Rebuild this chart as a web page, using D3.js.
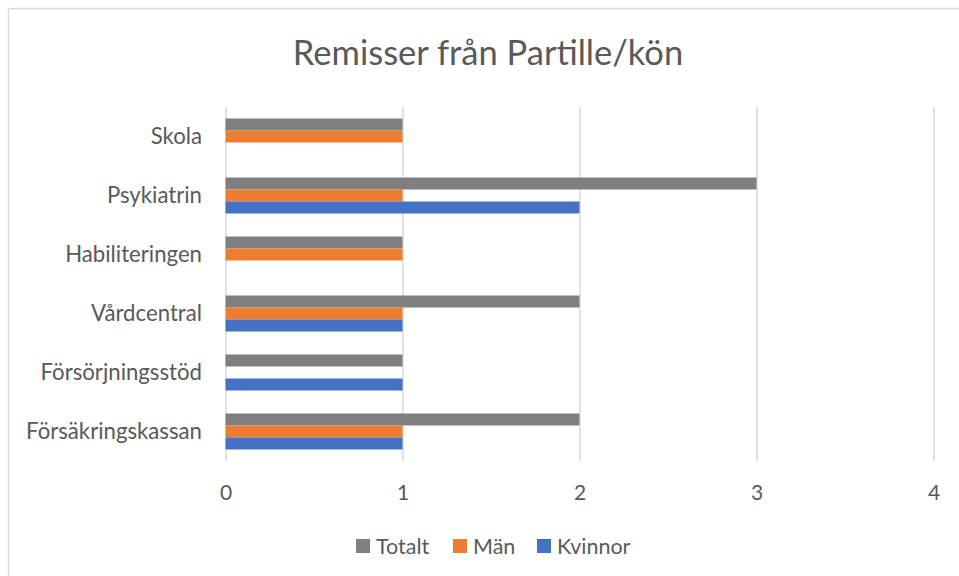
<!DOCTYPE html>
<html><head><meta charset="utf-8">
<script src="https://cdn.jsdelivr.net/npm/d3@7"></script>
<style>body{margin:0;background:#fff;} text{font-family:Lato,"Open Sans",sans-serif;}</style>
</head><body>
<svg id="c" width="959" height="576"></svg>
<script>
const categories = ["Skola","Psykiatrin","Habiliteringen","Vårdcentral","Försörjningsstöd","Försäkringskassan"];
const seriesNames = ["Totalt","Män","Kvinnor"];
const totalt = [1,3,1,2,1,2];
const man = [1,1,1,1,0,1];
const kvinnor = [0,2,0,1,1,1];
const xTicks = [0,1,2,3,4];
const colors = ["#7f7f7f","#ed7d31","#4472c4"];

const svg = d3.select("#c");
const W=959,H=576;
svg.append("rect").attr("x",0).attr("y",0).attr("width",W).attr("height",H).attr("fill","#fff");
svg.append("line").attr("x1",8.5).attr("x2",W).attr("y1",8.5).attr("y2",8.5).attr("stroke","#d9d9d9").attr("stroke-width",1.5);
svg.append("line").attr("x1",8.5).attr("x2",8.5).attr("y1",8.5).attr("y2",H).attr("stroke","#d9d9d9").attr("stroke-width",1.5);

const pL=225.5,pR=933.5,pT=107,pB=461;
const x=d3.scaleLinear().domain([0,4]).range([pL,pR]);
const y=d3.scaleBand().domain(categories).range([pT,pB]);
const groupH=36;
const off=(y.bandwidth()-groupH)/2;
const inner=d3.scaleBand().domain(seriesNames).range([off,off+groupH]);

svg.append("text").attr("x",488).attr("y",65).attr("text-anchor","middle").attr("font-size",34.5).attr("fill","#595959").text("Remisser från Partille/kön");

const xAxis=d3.axisBottom(x).tickValues(xTicks).tickSize(-(pB-pT)).tickFormat(d3.format("d"));
const gx=svg.append("g").attr("transform",`translate(0,${pB})`).call(xAxis);
gx.select(".domain").remove();
gx.selectAll(".tick line").attr("stroke","#d9d9d9").attr("stroke-width",1.5);
gx.selectAll(".tick text").attr("font-size",21).attr("fill","#595959").attr("dy",0).attr("y",39).style("font-family","Lato, 'Open Sans', sans-serif");

const data=[totalt,man,kvinnor];
seriesNames.forEach((s,si)=>{
  svg.append("g").selectAll("rect").data(categories.map((c,i)=>({c,v:data[si][i]}))).join("rect")
    .attr("x",x(0)).attr("y",d=>y(d.c)+inner(s)).attr("height",inner.bandwidth())
    .attr("width",d=>x(d.v)-x(0)).attr("fill",colors[si]);
});

const yAxis=d3.axisLeft(y).tickSize(0).tickPadding(0);
const gy=svg.append("g").attr("transform",`translate(202,0)`).call(yAxis);
gy.select(".domain").remove();
gy.selectAll(".tick text").attr("font-size",22.2).attr("fill","#595959").style("font-family","Lato, 'Open Sans', sans-serif").attr("dy","0.35em");

const legX=[356,453,537];
const lg=svg.append("g");
seriesNames.forEach((s,i)=>{
  lg.append("rect").attr("x",legX[i]).attr("y",539).attr("width",14).attr("height",14).attr("fill",colors[i]);
  lg.append("text").attr("x",legX[i]+20).attr("y",554).attr("font-size",21.5).attr("fill","#595959").text(s);
});
</script>
</body></html>
